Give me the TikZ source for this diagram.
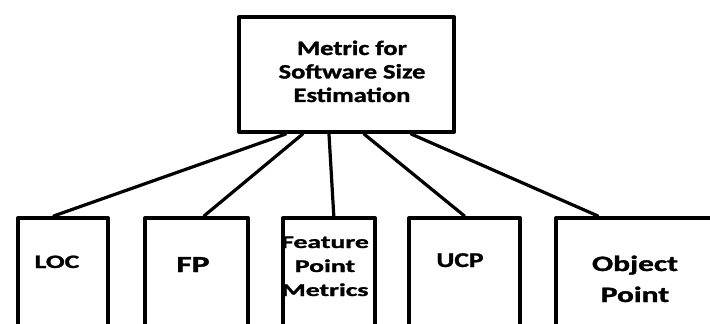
\documentclass[tikz,border=0pt]{standalone}
\usepackage{fontspec}
\usepackage{graphicx}
\setmainfont{Carlito}[BoldFeatures={FakeBold=1.2}]
\usetikzlibrary{calc}
\newcommand{\widetext}[2]{\scalebox{#1}[1]{\begin{tabular}[t]{@{}c@{}}#2\end{tabular}}}
\tikzset{
  box/.style={draw,line width=4pt,anchor=north west,inner sep=0pt},
  link/.style={line width=3.2pt,line cap=round},
  lbl/.style={inner sep=0pt,anchor=base}
}
\begin{document}
\begin{tikzpicture}[x=1pt,y=-1pt,line join=round]
\clip (0,0) rectangle (710,324);
% top box
\node[box,minimum width=215pt,minimum height=115pt] (metric) at (237,15) {};
\node[lbl,font=\bfseries\fontsize{20.5}{23.5}\selectfont] (metrictxt) at (352,55) {\widetext{1.29}{Metric for\\Software Size\\Estimation}};
% lower boxes
\node[box,minimum width=90pt,minimum height=140pt] (loc) at (16,216) {};
\node[box,minimum width=103pt,minimum height=140pt] (fp) at (143,216) {};
\node[box,minimum width=92pt,minimum height=140pt] (feat) at (281,216) {};
\node[box,minimum width=111pt,minimum height=140pt] (ucp) at (407,216) {};
\node[box,minimum width=180pt,minimum height=140pt] (obj) at (554,216) {};
% labels
\node[lbl,font=\bfseries\fontsize{19}{22}\selectfont] (loctxt) at (57,268) {\widetext{1.46}{LOC}};
\node[lbl,font=\bfseries\fontsize{23}{26}\selectfont] (fptxt) at (193,272) {\widetext{1.45}{FP}};
\node[lbl,font=\bfseries\fontsize{18}{24}\selectfont] (feattxt) at (325,248) {\widetext{1.54}{Feature\\Point\\Metrics}};
\node[lbl,font=\bfseries\fontsize{21}{24}\selectfont] (ucptxt) at (460,267) {\widetext{1.31}{UCP}};
\node[lbl,font=\bfseries\fontsize{22}{31}\selectfont] (objtxt) at (635,271) {\widetext{1.43}{Object\\Point}};
% connectors
\draw[link] ($(metric.south west)!0.223!(metric.south east)$) -- ($(loc.north west)!0.4!(loc.north east)$);
\draw[link] ($(metric.south west)!0.30!(metric.south east)$) -- ($(fp.north west)!0.57!(fp.north east)$);
\draw[link] ($(metric.south west)!0.42!(metric.south east)$) -- ($(feat.north west)!0.55!(feat.north east)$);
\draw[link] ($(metric.south west)!0.58!(metric.south east)$) -- ($(ucp.north west)!0.5!(ucp.north east)$);
\draw[link] ($(metric.south west)!0.795!(metric.south east)$) -- ([xshift=44pt]obj.north west);
\end{tikzpicture}
\end{document}
